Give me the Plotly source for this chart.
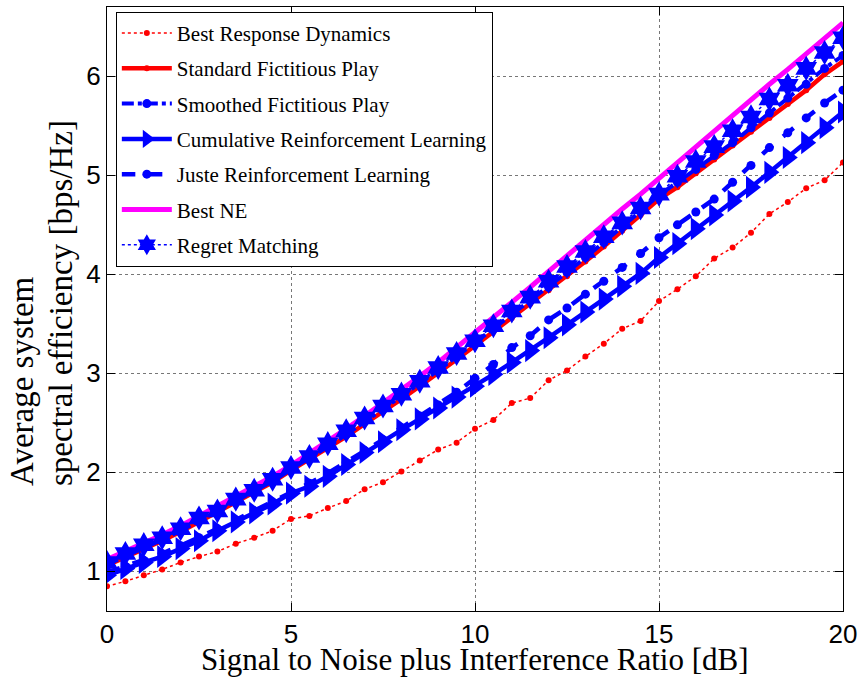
import plotly.graph_objects as go

snr = [0, 0.5, 1, 1.5, 2, 2.5, 3, 3.5, 4, 4.5, 5, 5.5, 6, 6.5, 7, 7.5, 8, 8.5, 9, 9.5,
       10, 10.5, 11, 11.5, 12, 12.5, 13, 13.5, 14, 14.5, 15, 15.5, 16, 16.5, 17, 17.5,
       18, 18.5, 19, 19.5, 20]

best_response = [0.85, 0.90, 0.96, 1.02, 1.09, 1.15, 1.20, 1.28, 1.34, 1.41,
                 1.53, 1.56, 1.64, 1.71, 1.83, 1.90, 2.01, 2.12, 2.23, 2.30,
                 2.44, 2.53, 2.70, 2.75, 2.93, 3.03, 3.17, 3.30, 3.45, 3.53,
                 3.73, 3.85, 3.98, 4.16, 4.27, 4.42, 4.61, 4.73, 4.87, 4.95, 5.13]

standard_fp = [1.06, 1.14, 1.23, 1.31, 1.40, 1.50, 1.59, 1.69, 1.79, 1.90,
               2.02, 2.13, 2.24, 2.36, 2.49, 2.61, 2.74, 2.87, 3.00, 3.14,
               3.28, 3.42, 3.56, 3.70, 3.84, 3.98, 4.13, 4.28, 4.44, 4.60,
               4.76, 4.88, 5.02, 5.16, 5.30, 5.44, 5.58, 5.72, 5.86, 6.02, 6.15]

smoothed_fp = [1.07, 1.15, 1.24, 1.32, 1.41, 1.51, 1.60, 1.70, 1.80, 1.91,
               2.03, 2.14, 2.26, 2.38, 2.51, 2.63, 2.76, 2.89, 3.03, 3.17,
               3.31, 3.45, 3.59, 3.73, 3.87, 4.02, 4.17, 4.32, 4.48, 4.64,
               4.80, 4.93, 5.06, 5.20, 5.33, 5.48, 5.63, 5.78, 5.92, 6.08, 6.21]

cumulative_rl = [0.96, 1.03, 1.09, 1.15, 1.23, 1.31, 1.41, 1.50, 1.59, 1.68,
                 1.79, 1.86, 1.96, 2.08, 2.20, 2.31, 2.43, 2.54, 2.65, 2.76,
                 2.87, 2.99, 3.11, 3.23, 3.36, 3.49, 3.62, 3.75, 3.88, 4.01,
                 4.17, 4.31, 4.46, 4.60, 4.74, 4.88, 5.03, 5.18, 5.33, 5.48, 5.64]

juste_rl = [0.99, 1.05, 1.11, 1.18, 1.26, 1.34, 1.43, 1.52, 1.61, 1.70,
            1.80, 1.89, 1.99, 2.10, 2.22, 2.33, 2.45, 2.57, 2.68, 2.81,
            2.95, 3.09, 3.26, 3.38, 3.54, 3.66, 3.80, 3.93, 4.07, 4.21,
            4.37, 4.50, 4.63, 4.76, 4.93, 5.10, 5.28, 5.43, 5.58, 5.73, 5.86]

best_ne = [1.12, 1.20, 1.28, 1.37, 1.46, 1.56, 1.65, 1.75, 1.85, 1.96,
           2.07, 2.19, 2.31, 2.44, 2.57, 2.70, 2.83, 2.97, 3.11, 3.26,
           3.41, 3.56, 3.72, 3.87, 4.03, 4.19, 4.35, 4.50, 4.66, 4.81,
           4.97, 5.12, 5.28, 5.44, 5.60, 5.76, 5.92, 6.07, 6.23, 6.39, 6.54]

regret_matching = [1.09, 1.18, 1.27, 1.34, 1.43, 1.54, 1.61, 1.73, 1.82, 1.93,
                   2.05, 2.16, 2.29, 2.42, 2.55, 2.67, 2.79, 2.92, 3.06, 3.20,
                   3.33, 3.48, 3.63, 3.77, 3.93, 4.08, 4.23, 4.38, 4.52, 4.67,
                   4.81, 4.99, 5.14, 5.29, 5.45, 5.59, 5.77, 5.91, 6.08, 6.24, 6.39]

x_ticks = [0, 5, 10, 15, 20]
y_ticks = [1, 2, 3, 4, 5, 6]

x_title = "Signal to Noise plus Interference Ratio [dB]"
y_title_lines = ["Average system", "spectral efficiency [bps/Hz]"]

SERIF = "Liberation Serif, Times New Roman, serif"
SANS = "Liberation Sans, Arial, sans-serif"

series = [
    ("Best Response Dynamics", best_response,
     dict(color="red", width=1.5, dash="dot"), dict(symbol="circle", size=6, color="red"), "lines+markers"),
    ("Standard Fictitious Play", standard_fp,
     dict(color="red", width=4.5), dict(symbol="circle", size=6, color="red"), "lines+markers"),
    ("Smoothed Fictitious Play", smoothed_fp,
     dict(color="blue", width=4, dash="dashdot"), dict(symbol="circle", size=9, color="blue"), "lines+markers"),
    ("Cumulative Reinforcement Learning", cumulative_rl,
     dict(color="blue", width=4.5), dict(symbol="triangle-right", size=20, color="blue"), "lines+markers"),
    ("Juste Reinforcement Learning", juste_rl,
     dict(color="blue", width=4.5, dash="dash"), dict(symbol="circle", size=9, color="blue"), "lines+markers"),
    ("Best NE", best_ne,
     dict(color="#ff00ff", width=5), None, "lines"),
    ("Regret Matching", regret_matching,
     dict(color="blue", width=1.5, dash="dot"), dict(symbol="hexagram", size=19, color="blue"), "lines+markers"),
]

fig = go.Figure()
for i, (name, vals, line, marker, mode) in enumerate(series):
    kw = dict(x=snr, y=vals, name=name, mode=mode, line=line, legendgroup=f"g{i}")
    if marker is not None:
        kw["marker"] = marker
    fig.add_trace(go.Scatter(**kw))

axis_common = dict(
    showline=True, linecolor="black", linewidth=1, mirror="ticks",
    ticks="inside", ticklen=8, tickcolor="black",
    showgrid=True, gridcolor="#777777", griddash="dot", gridwidth=1,
    zeroline=False, automargin=False,
    tickfont=dict(family=SANS, size=26, color="black"),
)

# plot area: 107..843 px horizontally, 7..611 px vertically
L, R, T, B = 107, 843, 7, 611
def px_x(p):
    return (p - L) / (R - L)
def px_y(p):
    return (B - p) / (B - T)

annotations = [
    dict(text=x_title, xref="paper", yref="paper", x=0.5, y=px_y(659),
         xanchor="center", yanchor="middle", showarrow=False,
         font=dict(family=SERIF, size=31, color="black")),
    dict(text=y_title_lines[0], xref="paper", yref="paper", x=px_x(22), y=px_y(488),
         xanchor="center", yanchor="bottom", textangle=-90, showarrow=False,
         font=dict(family=SERIF, size=33, color="black")),
    dict(text=y_title_lines[1], xref="paper", yref="paper", x=px_x(61), y=px_y(488),
         xanchor="center", yanchor="bottom", textangle=-90, showarrow=False,
         font=dict(family=SERIF, size=33, color="black")),
]

fig.update_layout(
    template="none",
    width=860, height=680,
    margin=dict(l=L, r=860 - R, t=T, b=680 - B),
    paper_bgcolor="white", plot_bgcolor="white",
    xaxis=dict(range=[0, 20], tickvals=x_ticks, ticktext=[str(v) for v in x_ticks],
               **axis_common),
    yaxis=dict(range=[0.6, 6.7], tickvals=y_ticks, ticktext=[str(v) for v in y_ticks],
               **axis_common),
    legend=dict(x=0.012, y=0.992, xanchor="left", yanchor="top",
                bgcolor="white", bordercolor="black", borderwidth=1,
                font=dict(family=SERIF, size=21, color="black"),
                traceorder="grouped", tracegroupgap=5, itemwidth=50),
    annotations=annotations,
    showlegend=True,
)

fig.write_html("out.html", config={"displayModeBar": False},
               post_script="document.body.style.margin='0px';document.body.style.padding='0px';")
